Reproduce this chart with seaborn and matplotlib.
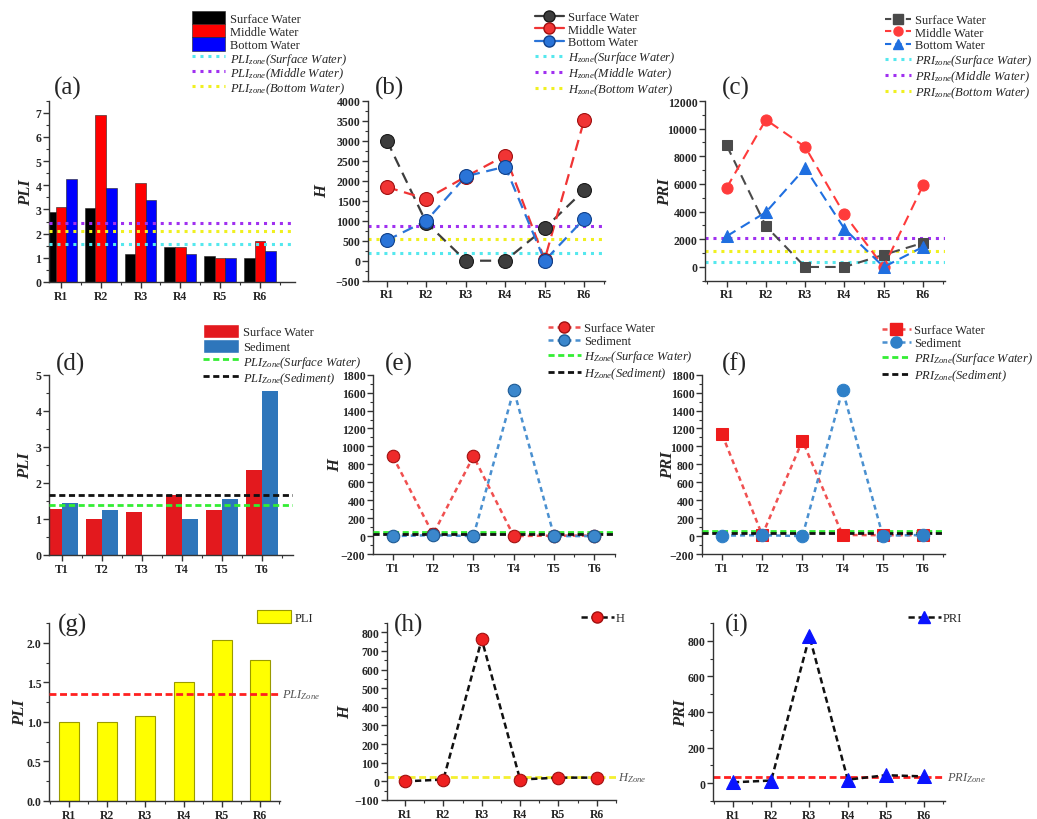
import numpy as np
import pandas as pd
import matplotlib
matplotlib.use("Agg")
import matplotlib.pyplot as plt
import seaborn as sns
from matplotlib.lines import Line2D
from matplotlib.patches import Patch
from matplotlib.ticker import MultipleLocator, FixedLocator, FormatStrFormatter

# ---------------- data ----------------
sites_R = ["R1", "R2", "R3", "R4", "R5", "R6"]
sites_T = ["T1", "T2", "T3", "T4", "T5", "T6"]
layers = ["Surface Water", "Middle Water", "Bottom Water"]

# (a) PLI
pli_surface = [2.90, 3.05, 1.17, 1.43, 1.08, 1.00]
pli_middle = [3.10, 6.90, 4.10, 1.45, 1.00, 1.68]
pli_bottom = [4.25, 3.90, 3.38, 1.17, 1.00, 1.30]
pli_zone = [1.58, 2.45, 2.10]  # surface, middle, bottom

# (b) H
h_surface = [3000, 950, 0, 0, 810, 1760]
h_middle = [1840, 1545, 2100, 2630, 30, 3510]
h_bottom = [510, 1000, 2110, 2350, 0, 1045]
h_zone = [195, 865, 540]

# (c) PRI
pri_surface = [8800, 2950, 0, 0, 880, 1740]
pri_middle = [5720, 10650, 8680, 3800, 0, 5900]
pri_bottom = [2220, 3960, 7150, 2760, 0, 1450]
pri_zone = [330, 2120, 1140]

# (d) PLI surface water vs sediment
d_labels = ["Surface Water", "Sediment"]
d_surface = [1.28, 1.00, 1.20, 1.67, 1.25, 2.35]
d_sediment = [1.45, 1.25, 0.00, 1.00, 1.55, 4.55]
d_zone = [1.40, 1.67]

# (e) H surface water vs sediment
e_surface = [890, 20, 890, 0, 5, 5]
e_sediment = [0, 10, 0, 1630, 0, 0]
e_zone = [48, 20]

# (f) PRI surface water vs sediment
f_surface = [1135, 10, 1065, 12, 10, 10]
f_sediment = [5, 10, 0, 1630, 5, 12]
f_zone = [55, 35]

# (g)(h)(i)
g_pli = [1.00, 1.00, 1.08, 1.50, 2.03, 1.78]
g_zone = 1.35
h_vals = [0, 10, 762, 10, 20, 20]
h_zone2 = 25
i_vals = [5, 15, 825, 20, 45, 38]
i_zone = 35

# ---------------- style ----------------
sns.set_theme(style="ticks")
plt.rcParams["font.family"] = ["Liberation Serif", "DejaVu Serif"]
plt.rcParams["mathtext.fontset"] = "custom"
plt.rcParams["mathtext.it"] = "Liberation Serif:italic"
plt.rcParams["mathtext.rm"] = "Liberation Serif"
plt.rcParams["xtick.direction"] = "out"
plt.rcParams["ytick.direction"] = "out"

W, H = 1037, 820
fig = plt.figure(figsize=(W / 100, H / 100), dpi=100)
fig.patch.set_facecolor("white")

LEG_FS = 9


def axes_px(x0, x1, y0, y1):
    return fig.add_axes([x0 / W, 1 - y1 / H, (x1 - x0) / W, (y1 - y0) / H])


def style_ax(ax, ylabel, ymaj, ymin, cats, xlim, ylim, labx):
    ax.set_xlim(*xlim)
    ax.set_ylim(*ylim)
    ax.set_xticks(range(len(cats)))
    ax.set_xticklabels(cats)
    ax.xaxis.set_minor_locator(FixedLocator(np.arange(-0.5, len(cats), 1.0)))
    ax.yaxis.set_major_locator(MultipleLocator(ymaj))
    ax.yaxis.set_minor_locator(MultipleLocator(ymin))
    ax.set_ylabel(ylabel, fontsize=12, fontweight="bold", fontstyle="italic")
    ax.yaxis.set_label_coords(labx, 0.5)
    ax.set_xlabel("")
    for lab in ax.get_xticklabels() + ax.get_yticklabels():
        lab.set_fontweight("bold")
        lab.set_fontsize(8.5)
    ax.tick_params(axis="both", which="major", length=4, width=1, color="#333333", pad=1.5)
    ax.tick_params(axis="both", which="minor", length=2.5, width=0.8, color="#333333")
    for s in ["left", "bottom"]:
        ax.spines[s].set_color("#333333")
        ax.spines[s].set_linewidth(1.0)
    sns.despine(ax=ax)
    ax.set_facecolor("white")
    ax.grid(False)


def letter(ax, txt, x, y, va="bottom"):
    ax.text(x, y, txt, transform=ax.transAxes, fontsize=18, va=va, ha="left")


def sphere(ax, x, y, color, ms, edge):
    sns.lineplot(x=x, y=y, ax=ax, linestyle="none", marker="o", markersize=ms,
                 markerfacecolor=color, markeredgecolor=edge, markeredgewidth=0.8,
                 color=color, zorder=5)


def italicize(leg, start):
    for t in leg.get_texts()[start:]:
        t.set_fontstyle("italic")


dot = (0, (1, 1.6))
xR = list(range(6))

# ---------------- (a) ----------------
axA = axes_px(49, 295, 101.7, 283)
dfA = pd.DataFrame({
    "site": sites_R * 3,
    "value": pli_surface + pli_middle + pli_bottom,
    "layer": sum([[l] * 6 for l in layers], []),
})
colsA = ["#000000", "#ff0000", "#0000ff"]
sns.barplot(data=dfA, x="site", y="value", hue="layer", palette=colsA, width=0.8,
            errorbar=None, ax=axA, legend=False, edgecolor="#222222", linewidth=0.4, saturation=1)
zcolA = ["#55e8ee", "#a030f0", "#f0f020"]
for v, c in zip(pli_zone, zcolA):
    axA.axhline(v, color=c, lw=2.2, linestyle=dot, zorder=4)
style_ax(axA, "PLI", 1, 0.5, sites_R, (-0.3, 5.88), (0, 7.5), -0.06)
letter(axA, "(a)", 0.02, 1.01)
hA = [Patch(facecolor=c, edgecolor="#222222", linewidth=0.4) for c in colsA] + \
     [Line2D([], [], color=c, lw=2.2, linestyle=dot) for c in zcolA]
lA = layers + [r"$PLI_{zone}$(" + l + ")" for l in layers]
legA = fig.legend(hA, lA, loc="upper left", bbox_to_anchor=(187 / W, 1 - 7 / H), frameon=False,
                  fontsize=LEG_FS, handlelength=2.6, handleheight=1.25, labelspacing=-0.05,
                  handletextpad=0.4, borderaxespad=0)
italicize(legA, 3)

# ---------------- (b) ----------------
axB = axes_px(368, 605, 101.7, 281.7)
colsB = ["#3d3d3d", "#f03434", "#2a74d8"]
edgeB = ["#1a1a1a", "#a01010", "#10408a"]
dash_b = (0, (5, 3))
for vals, c in zip([h_surface, h_middle, h_bottom], colsB):
    sns.lineplot(x=xR, y=vals, ax=axB, color=c, lw=1.6, linestyle=dash_b, zorder=3)
for v, c in zip(h_zone, zcolA):
    axB.axhline(v, color=c, lw=2.2, linestyle=dot, zorder=2)
for vals, c, e in zip([h_surface, h_middle, h_bottom], colsB, edgeB):
    sphere(axB, xR, vals, c, 10, e)
style_ax(axB, "H", 500, 250, sites_R, (-0.48, 5.53), (-500, 4000), -0.16)
letter(axB, "(b)", 0.03, 1.01)
hB = [Line2D([], [], color=c, lw=1.6, marker="o", markersize=8, markerfacecolor=c,
             markeredgecolor=e) for c, e in zip(colsB, edgeB)] + \
     [Line2D([], [], color=c, lw=2.2, linestyle=dot) for c in zcolA]
lB = layers + [r"$H_{zone}$(" + l + ")" for l in layers]
legB = fig.legend(hB, lB, loc="upper left", bbox_to_anchor=(530 / W, 1 - 7 / H), frameon=False,
                  fontsize=LEG_FS, handlelength=2.3, labelspacing=0.05, handletextpad=0.3,
                  borderaxespad=0)
italicize(legB, 3)

# ---------------- (c) ----------------
axC = axes_px(705, 945, 102, 281.8)
colsC = ["#4a4a4a", "#ff3b3b", "#1f6fe0"]
marksC = ["s", "o", "^"]
sizesC = [7, 8, 8.5]
for vals, c, m, s in zip([pri_surface, pri_middle, pri_bottom], colsC, marksC, sizesC):
    sns.lineplot(x=xR, y=vals, ax=axC, color=c, lw=1.5, linestyle=dash_b, marker=m,
                 markersize=s, markeredgecolor=c, markerfacecolor=c, zorder=4)
for v, c in zip(pri_zone, zcolA):
    axC.axhline(v, color=c, lw=2.2, linestyle=dot, zorder=2)
style_ax(axC, "PRI", 2000, 1000, sites_R, (-0.55, 5.56), (-1000, 12000), -0.133)
letter(axC, "(c)", 0.07, 1.01)
hC = [Line2D([], [], color=c, lw=1.5, linestyle=(0, (3, 2)), marker=m, markersize=6.5,
             markerfacecolor=c, markeredgecolor=c) for c, m in zip(colsC, marksC)] + \
     [Line2D([], [], color=c, lw=2.2, linestyle=dot) for c in zcolA]
lC = layers + [r"$PRI_{zone}$(" + l + ")" for l in layers]
legC = fig.legend(hC, lC, loc="upper left", bbox_to_anchor=(880 / W, 1 - 10 / H), frameon=False,
                  fontsize=LEG_FS, handlelength=2.1, labelspacing=0.05, handletextpad=0.3,
                  borderaxespad=0)
italicize(legC, 3)

# ---------------- (d) ----------------
axD = axes_px(49, 293, 376, 556)
dfD = pd.DataFrame({
    "site": sites_T * 2,
    "value": d_surface + d_sediment,
    "kind": sum([[l] * 6 for l in d_labels], []),
})
colsD = ["#e3191e", "#2e76bb"]
sns.barplot(data=dfD, x="site", y="value", hue="kind", palette=colsD, width=0.8,
            errorbar=None, ax=axD, legend=False, saturation=1, linewidth=0)
zcolD = ["#33ee33", "#111111"]
dashD = (0, (2.2, 1.3))
for v, c in zip(d_zone, zcolD):
    axD.axhline(v, color=c, lw=2.0, linestyle=dashD, zorder=4)
style_ax(axD, "PLI", 1, 0.5, sites_T, (-0.33, 5.78), (0, 5), -0.064)
letter(axD, "(d)", 0.03, 1.0)
hD = [Patch(facecolor=c) for c in colsD] + \
     [Line2D([], [], color=c, lw=2.0, linestyle=dashD) for c in zcolD]
lD = d_labels + [r"$PLI_{Zone}$(Surface Water)", r"$PLI_{Zone}$(Sediment)"]
legD = fig.legend(hD, lD, loc="upper left", bbox_to_anchor=(198 / W, 1 - 320 / H), frameon=False,
                  fontsize=LEG_FS, handlelength=2.9, handleheight=1.35, labelspacing=0.05,
                  handletextpad=0.3, borderaxespad=0)
italicize(legD, 2)

# ---------------- (e) ----------------
axE = axes_px(373, 615, 375.7, 555)
colsE = ["#ee2a2a", "#3b87cc"]
edgeE = ["#a01010", "#1d5a94"]
lineE = ["#f05050", "#4a90d0"]
dashE = (0, (2, 1.6))
for vals, c in zip([e_surface, e_sediment], lineE):
    sns.lineplot(x=xR, y=vals, ax=axE, color=c, lw=1.8, linestyle=dashE, zorder=3)
for v, c in zip(e_zone, zcolD):
    axE.axhline(v, color=c, lw=2.0, linestyle=dashD, zorder=4)
for vals, c, e in zip([e_surface, e_sediment], colsE, edgeE):
    sphere(axE, xR, vals, c, 9, e)
style_ax(axE, "H", 200, 100, sites_T, (-0.49, 5.51), (-200, 1800), -0.124)
letter(axE, "(e)", 0.05, 1.0)
hE = [Line2D([], [], color=lc, lw=1.8, linestyle=dashE, marker="o", markersize=8,
             markerfacecolor=c, markeredgecolor=e) for c, e, lc in zip(colsE, edgeE, lineE)] + \
     [Line2D([], [], color=c, lw=2.0, linestyle=dashD) for c in zcolD]
lE = d_labels + [r"$H_{Zone}$(Surface Water)", r"$H_{Zone}$(Sediment)"]
legE = fig.legend(hE, lE, loc="upper left", bbox_to_anchor=(543 / W, 1 - 318 / H), frameon=False,
                  fontsize=LEG_FS, handlelength=2.6, labelspacing=0.1, handletextpad=0.3,
                  borderaxespad=0)
italicize(legE, 2)

# ---------------- (f) ----------------
axF = axes_px(702, 945, 375.7, 555)
colsF = ["#ee1c1c", "#2f80c8"]
marksF = ["s", "o"]
for vals, lc in zip([f_surface, f_sediment], lineE):
    sns.lineplot(x=xR, y=vals, ax=axF, color=lc, lw=1.8, linestyle=dashE, zorder=3)
for v, c in zip(f_zone, zcolD):
    axF.axhline(v, color=c, lw=2.0, linestyle=dashD, zorder=4)
for vals, c, m in zip([f_surface, f_sediment], colsF, marksF):
    sns.lineplot(x=xR, y=vals, ax=axF, linestyle="none", marker=m, markersize=9,
                 markerfacecolor=c, markeredgecolor=c, color=c, zorder=5)
style_ax(axF, "PRI", 200, 100, sites_T, (-0.5, 5.55), (-200, 1800), -0.107)
letter(axF, "(f)", 0.08, 1.0)
hF = [Line2D([], [], color=lc, lw=1.8, linestyle=dashE, marker=m, markersize=8,
             markerfacecolor=c, markeredgecolor=c) for c, lc, m in zip(colsF, lineE, marksF)] + \
     [Line2D([], [], color=c, lw=2.0, linestyle=dashD) for c in zcolD]
lF = d_labels + [r"$PRI_{Zone}$(Surface Water)", r"$PRI_{Zone}$(Sediment)"]
legF = fig.legend(hF, lF, loc="upper left", bbox_to_anchor=(877 / W, 1 - 320 / H), frameon=False,
                  fontsize=LEG_FS, handlelength=2.3, labelspacing=0.1, handletextpad=0.3,
                  borderaxespad=0)
italicize(legF, 2)

# ---------------- (g) ----------------
axG = axes_px(49, 280, 624, 802)
sns.barplot(x=sites_R, y=g_pli, color="#ffff00", width=0.52, errorbar=None, ax=axG,
            saturation=1, edgecolor="#9a9a00", linewidth=0.8)
axG.axhline(g_zone, color="#ff2020", lw=2.0, linestyle=(0, (2.5, 1.3)), zorder=4)
style_ax(axG, "PLI", 0.5, 0.25, sites_R, (-0.52, 5.52), (0, 2.25), -0.091)
axG.yaxis.set_major_formatter(FormatStrFormatter("%.1f"))
for lab in axG.get_yticklabels():
    lab.set_fontweight("bold")
    lab.set_fontsize(8.5)
letter(axG, "(g)", 0.04, 0.99, va="center")
axG.text(1.01, g_zone, r"$PLI_{Zone}$", transform=axG.get_yaxis_transform(), fontsize=9,
         color="#555555", va="center", ha="left")
fig.legend([Patch(facecolor="#ffff00", edgecolor="#9a9a00", linewidth=0.8)], ["PLI"],
           loc="upper left", bbox_to_anchor=(252 / W, 1 - 606 / H), frameon=False,
           fontsize=LEG_FS, handlelength=2.7, handleheight=1.2, handletextpad=0.3, borderaxespad=0)

# ---------------- (h) ----------------
axH = axes_px(387, 616, 624, 801)
sns.lineplot(x=xR, y=h_vals, ax=axH, color="#111111", lw=1.8, linestyle=(0, (2.5, 1.5)), zorder=3)
axH.axhline(h_zone2, color="#f4f030", lw=2.0, linestyle=(0, (2.5, 1.3)), zorder=2)
sphere(axH, xR, h_vals, "#ee2020", 9, "#a01010")
style_ax(axH, "H", 100, 50, sites_R, (-0.47, 5.5), (-100, 850), -0.146)
letter(axH, "(h)", 0.03, 0.99, va="center")
axH.text(1.01, h_zone2, r"$H_{Zone}$", transform=axH.get_yaxis_transform(), fontsize=9,
         color="#555555", va="center", ha="left")
fig.legend([Line2D([], [], color="#111111", lw=1.8, linestyle=(0, (2.5, 1.5)), marker="o",
                   markersize=8, markerfacecolor="#ee2020", markeredgecolor="#a01010")], ["H"],
           loc="upper left", bbox_to_anchor=(576 / W, 1 - 608 / H), frameon=False,
           fontsize=LEG_FS, handlelength=2.6, handletextpad=0.2, borderaxespad=0)

# ---------------- (i) ----------------
axI = axes_px(713, 945, 624, 802)
sns.lineplot(x=xR, y=i_vals, ax=axI, color="#111111", lw=1.8, linestyle=(0, (2.5, 1.5)), zorder=3)
axI.axhline(i_zone, color="#ff2020", lw=2.0, linestyle=(0, (2.5, 1.3)), zorder=2)
sns.lineplot(x=xR, y=i_vals, ax=axI, linestyle="none", marker="^", markersize=10,
             markerfacecolor="#0a14ff", markeredgecolor="#0a14ff", color="#0a14ff", zorder=5)
style_ax(axI, "PRI", 200, 100, sites_R, (-0.52, 5.54), (-100, 900), -0.103)
letter(axI, "(i)", 0.05, 0.99, va="center")
axI.text(1.01, i_zone, r"$PRI_{Zone}$", transform=axI.get_yaxis_transform(), fontsize=9,
         color="#555555", va="center", ha="left")
fig.legend([Line2D([], [], color="#111111", lw=1.8, linestyle=(0, (2.5, 1.5)), marker="^",
                   markersize=8, markerfacecolor="#0a14ff", markeredgecolor="#0a14ff")], ["PRI"],
           loc="upper left", bbox_to_anchor=(903 / W, 1 - 608 / H), frameon=False,
           fontsize=LEG_FS, handlelength=2.6, handletextpad=0.2, borderaxespad=0)

fig.savefig("out.png", dpi=100, facecolor="white")
